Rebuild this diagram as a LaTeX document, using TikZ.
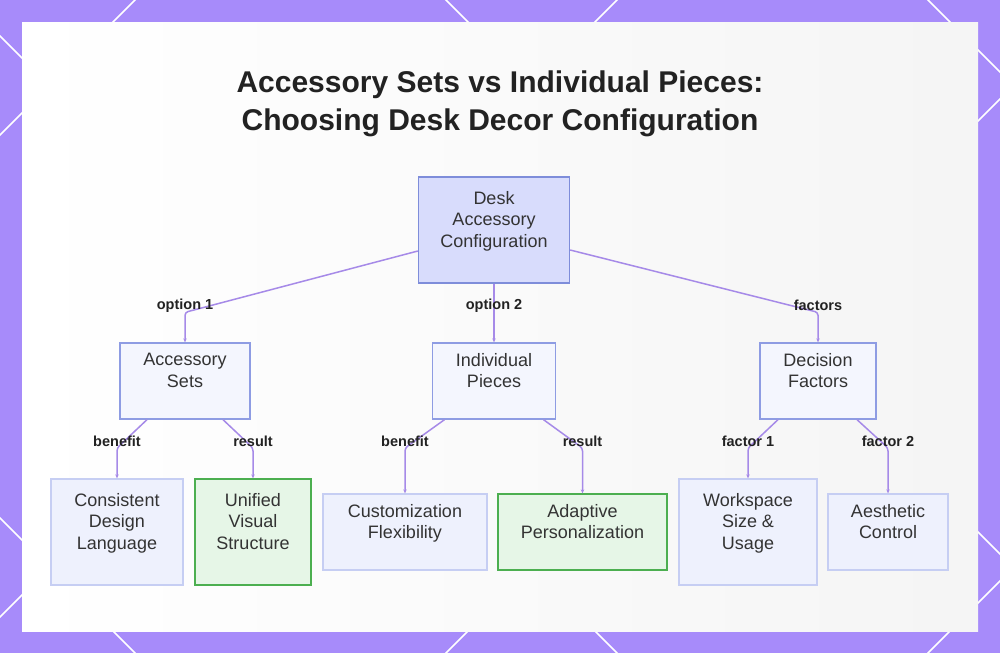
\documentclass[tikz,border=0pt]{standalone}
\usepackage{fontspec}
\setmainfont{Liberation Sans}
\usepackage{xcolor}
\usetikzlibrary{positioning, arrows.meta}

\definecolor{framepurple}{HTML}{A78BFA}
\definecolor{linkpurple}{HTML}{A68AE8}
\definecolor{rootfill}{HTML}{D8DCFC}
\definecolor{rootline}{HTML}{7E8DDA}
\definecolor{midfill}{HTML}{F4F6FE}
\definecolor{midline}{HTML}{8E9CE3}
\definecolor{leaffill}{HTML}{EEF1FD}
\definecolor{leafline}{HTML}{C6CEF3}
\definecolor{goodfill}{HTML}{E6F6E7}
\definecolor{goodline}{HTML}{4CAF50}
\definecolor{inkdark}{HTML}{222222}
\definecolor{inknode}{HTML}{333333}

% empty last line lifts the text towards the top of the box
\newcommand{\padline}{\\\mbox{}}

\tikzset{
  boxbase/.style={align=center, inner sep=0pt, text=inknode,
    font=\fontsize{18}{21.5}\selectfont},
  rootbox/.style={boxbase, draw=rootline, fill=rootfill, line width=1.3pt},
  midbox/.style={boxbase, draw=midline, fill=midfill, line width=1.3pt},
  leafbox/.style={boxbase, draw=leafline, fill=leaffill, line width=1.3pt},
  goodbox/.style={boxbase, draw=goodline, fill=goodfill, line width=1.3pt},
  link/.style={draw=linkpurple, line width=1.5pt, rounded corners=3pt,
    -{Stealth[length=4pt, width=3.5pt]}},
  elabel/.style={font=\fontsize{14.5}{17}\selectfont\bfseries, text=inkdark,
    inner sep=0pt, yshift=7pt}
}

\begin{document}
\begin{tikzpicture}[x=1pt, y=-1pt]
% frame with diagonal lattice
\fill[framepurple] (0,0) rectangle (1000,653);
\useasboundingbox (0,0) rectangle (1000,653);
\begin{scope}
\clip (0,0) rectangle (1000,653);
\foreach \k in {-1,...,3} {
    \draw[white, line width=1.5pt] (135+482*\k+700,-700) -- (135+482*\k-700,700);
    \draw[white, line width=1.5pt] (-36+482*\k-700,-700) -- (-36+482*\k+700,700);
}
\end{scope}
\shade[left color=white, right color=black!4] (22,22) rectangle (978,631);

% title
\node[font=\fontsize{30}{38}\selectfont\bfseries, text=inkdark, align=center] (title)
  at (500,104) {Accessory Sets vs Individual Pieces:\\Choosing Desk Decor Configuration};

% boxes
\node[rootbox, minimum width=151pt, minimum height=106pt] (root) at (494,230)
  {Desk\\Accessory\\Configuration\padline};

\node[midbox, minimum width=130pt, minimum height=76pt] (acc) at (185,381) {Accessory\\Sets\padline};
\node[midbox, minimum width=123pt, minimum height=76pt] (ind) at (494,381) {Individual\\Pieces\padline};
\node[midbox, minimum width=116pt, minimum height=76pt] (dec) at (818,381) {Decision\\Factors\padline};

\node[leafbox, minimum width=132pt, minimum height=106pt] (cons) at (117,532) {Consistent\\Design\\Language\padline};
\node[goodbox, minimum width=116pt, minimum height=106pt] (unif) at (253,532) {Unified\\Visual\\Structure\padline};
\node[leafbox, minimum width=164pt, minimum height=76pt] (cust) at (405,532) {Customization\\Flexibility\padline};
\node[goodbox, minimum width=169pt, minimum height=76pt] (adap) at (582.5,532) {Adaptive\\Personalization\padline};
\node[leafbox, minimum width=138pt, minimum height=106pt] (work) at (748,532) {Workspace\\Size \&\\Usage\padline};
\node[leafbox, minimum width=120pt, minimum height=76pt] (aest) at (888,532) {Aesthetic\\Control\padline};

% first level links
\draw[link] ([yshift=-21pt]root.west) -- ([yshift=30pt]acc.north)
  node[elabel] (lopt1) {option 1} -- (acc.north);
\draw[link] (root.south) -- node[elabel] (lopt2) {option 2} (ind.north);
\draw[link] ([yshift=-20pt]root.east) -- ([yshift=30pt]dec.north)
  node[elabel] (lfact) {factors} -- (dec.north);

% second level links
\foreach \p/\c/\dx/\lab in {acc/cons/-38/benefit, acc/unif/38/result,
    ind/cust/-49.5/benefit, ind/adap/49.5/result,
    dec/work/-40/factor 1, dec/aest/39/factor 2} {
  \draw[link] ([xshift=\dx pt]\p.south) -- (\c.north |- 0,448)
    node[elabel] (l-\c) {\lab} -- (\c.north);
}
\end{tikzpicture}
\end{document}
